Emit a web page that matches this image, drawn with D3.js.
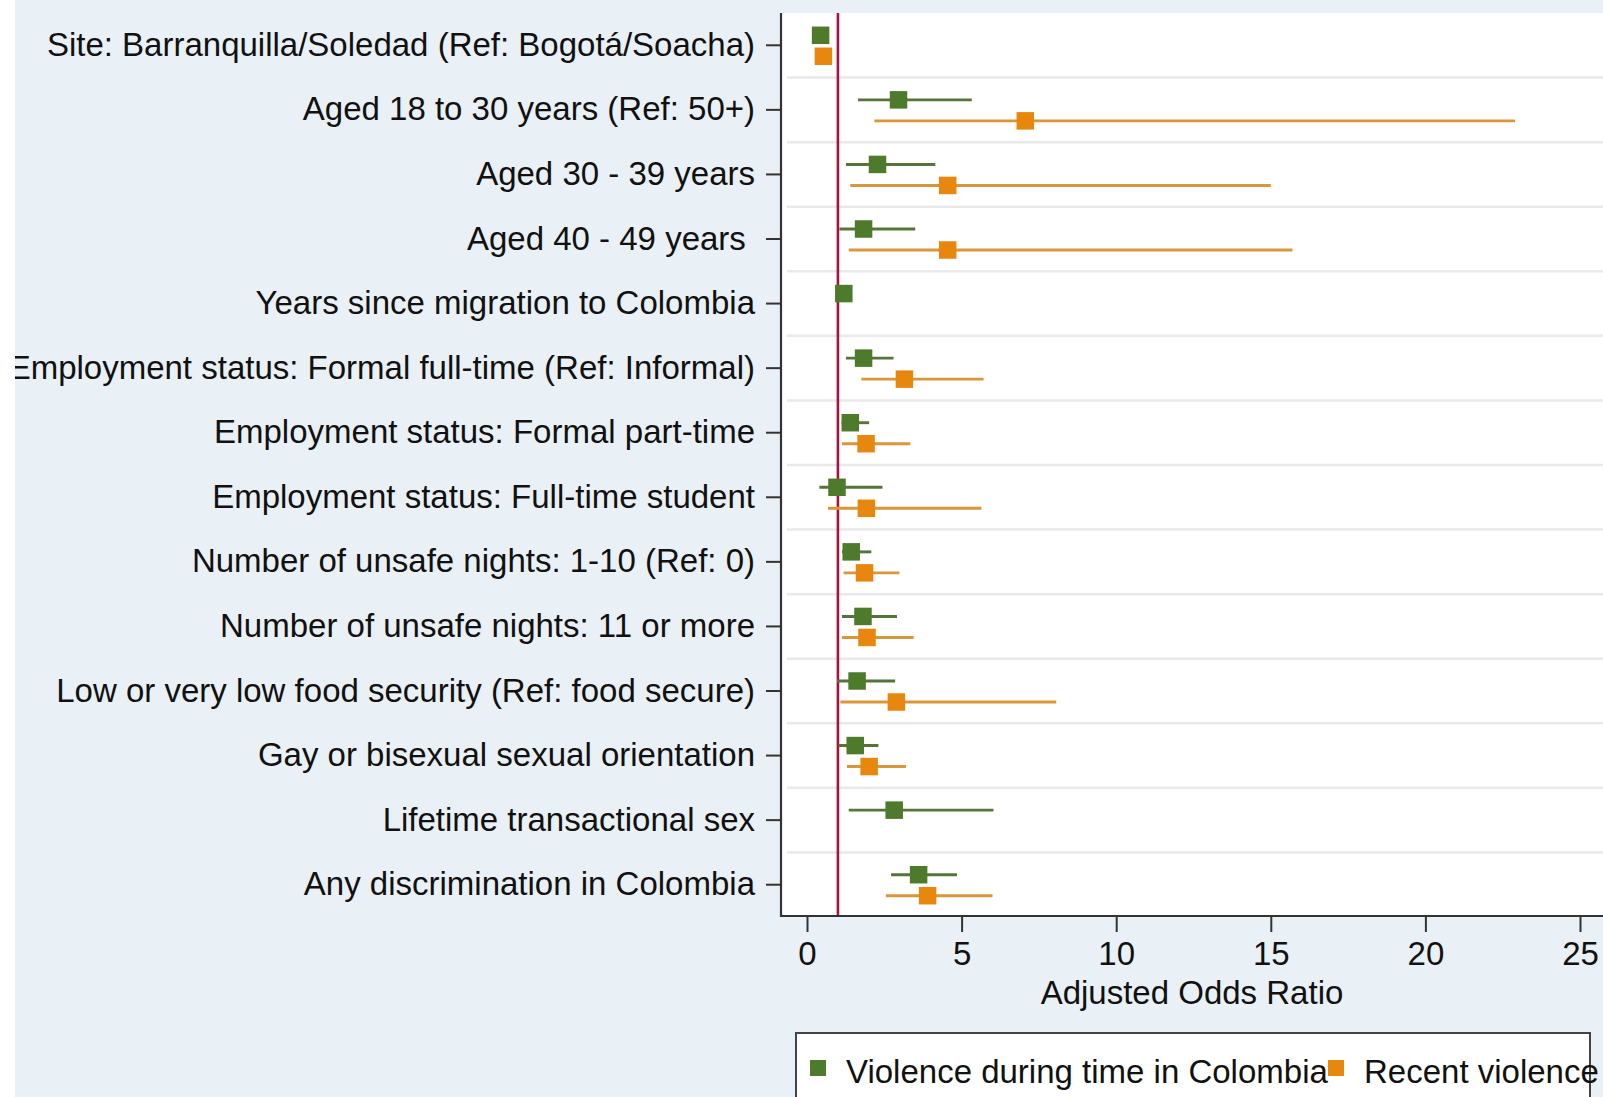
<!DOCTYPE html>
<html>
<head>
<meta charset="utf-8">
<script src="https://cdn.jsdelivr.net/npm/d3@7"></script>
<style>
  body { margin: 0; background: #ffffff; }
  text { font-family: "Liberation Sans", Arial, Helvetica, sans-serif; fill: #111; }
</style>
</head>
<body>
<div id="chart"></div>
<script>
const categories = [
  "Site: Barranquilla/Soledad (Ref: Bogotá/Soacha)",
  "Aged 18 to 30 years (Ref: 50+)",
  "Aged 30 - 39 years",
  "Aged 40 - 49 years ",
  "Years since migration to Colombia",
  "Employment status: Formal full-time (Ref: Informal)",
  "Employment status: Formal part-time",
  "Employment status: Full-time student",
  "Number of unsafe nights: 1-10 (Ref: 0)",
  "Number of unsafe nights: 11 or more",
  "Low or very low food security (Ref: food secure)",
  "Gay or bisexual sexual orientation",
  "Lifetime transactional sex",
  "Any discrimination in Colombia"
];

// Violence during time in Colombia
const violenceAor = [0.44, 2.96, 2.28, 1.83, 1.19, 1.83, 1.40, 0.97, 1.43, 1.81, 1.62, 1.56, 2.82, 3.61];
const violenceLow = [0.32, 1.65, 1.26, 1.05, 1.10, 1.26, 1.12, 0.40, 1.13, 1.13, 0.97, 1.02, 1.35, 2.72];
const violenceHigh = [0.60, 5.33, 4.15, 3.50, 1.28, 2.80, 2.01, 2.44, 2.08, 2.91, 2.85, 2.31, 6.03, 4.85];

// Recent violence (null = not in model)
const recentAor = [0.53, 7.06, 4.55, 4.55, null, 3.15, 1.91, 1.92, 1.86, 1.94, 2.89, 2.01, null, 3.90];
const recentLow = [0.38, 2.18, 1.40, 1.35, null, 1.76, 1.13, 0.68, 1.18, 1.13, 1.08, 1.29, null, 2.55];
const recentHigh = [0.72, 22.9, 15.0, 15.7, null, 5.71, 3.34, 5.64, 2.99, 3.45, 8.06, 3.20, null, 6.00];

const seriesNames = ["Violence during time in Colombia", "Recent violence"];
const xTicks = [0, 5, 10, 15, 20, 25];
const refValue = 1;

const width = 1603;
const height = 1097;
const plotLeft = 781;
const plotTop = 13;
const plotBottom = 916;
const fontSize = 33;
const bg = "#e9f0f6";
const green = "#4e7a2b";
const greenLine = "#56733c";
const orange = "#e8870e";
const orangeLine = "#d9963a";

const svg = d3.select("#chart").append("svg")
  .attr("width", width)
  .attr("height", height);

svg.append("rect").attr("width", width).attr("height", height).attr("fill", bg);

// plot region
svg.append("rect")
  .attr("x", plotLeft).attr("y", plotTop)
  .attr("width", width - plotLeft).attr("height", plotBottom - plotTop)
  .attr("fill", "#ffffff");

const x = d3.scaleLinear().domain([0, 25]).range([807, 1580]);
const y = d3.scaleBand().domain(categories).range([plotTop, 917]);

// gridlines between rows
svg.append("g").selectAll("line")
  .data(categories.slice(1))
  .enter().append("line")
  .attr("x1", plotLeft + 6).attr("x2", width)
  .attr("y1", d => y(d)).attr("y2", d => y(d))
  .attr("stroke", "#e9e9ec").attr("stroke-width", 2.5);

// reference line at 1
svg.append("line")
  .attr("x1", x(refValue)).attr("x2", x(refValue))
  .attr("y1", plotTop).attr("y2", plotBottom)
  .attr("stroke", "#a8123f").attr("stroke-width", 2.6);

const rows = categories.map((c, i) => ({
  cat: c,
  series: [
    { est: violenceAor[i], lo: violenceLow[i], hi: violenceHigh[i], off: -10, fill: green, line: greenLine },
    { est: recentAor[i], lo: recentLow[i], hi: recentHigh[i], off: 11, fill: orange, line: orangeLine }
  ].filter(s => s.est !== null)
}));

const rowG = svg.append("g").selectAll("g")
  .data(rows)
  .enter().append("g")
  .attr("transform", d => `translate(0, ${y(d.cat) + y.bandwidth() / 2})`);

const markSize = 17.5;
rowG.each(function (d) {
  const g = d3.select(this);
  g.selectAll("line.ci")
    .data(d.series)
    .enter().append("line")
    .attr("class", "ci")
    .attr("x1", s => x(s.lo)).attr("x2", s => x(s.hi))
    .attr("y1", s => s.off).attr("y2", s => s.off)
    .attr("stroke", s => s.line).attr("stroke-width", 2.9);
  g.selectAll("rect.est")
    .data(d.series)
    .enter().append("rect")
    .attr("class", "est")
    .attr("x", s => x(s.est) - markSize / 2)
    .attr("y", s => s.off - markSize / 2)
    .attr("width", markSize).attr("height", markSize)
    .attr("fill", s => s.fill);
});

// axes
const xAxis = d3.axisBottom(x).tickValues(xTicks).tickSize(16).tickSizeOuter(0).tickPadding(10);
const xg = svg.append("g").attr("transform", `translate(0, ${plotBottom})`).call(xAxis);
xg.select(".domain").remove();
xg.selectAll(".tick line").attr("stroke", "#333").attr("stroke-width", 2);
xg.selectAll(".tick text").attr("font-size", fontSize).attr("fill", "#111")
  .attr("font-family", "Liberation Sans, Arial, sans-serif");

const yAxis = d3.axisLeft(y).tickSize(15).tickSizeOuter(0).tickPadding(11);
const yg = svg.append("g").attr("transform", `translate(${plotLeft}, 0)`).call(yAxis);
yg.select(".domain").remove();
yg.selectAll(".tick line").attr("stroke", "#333").attr("stroke-width", 2);
yg.selectAll(".tick text").attr("font-size", fontSize).attr("fill", "#111")
  .attr("font-family", "Liberation Sans, Arial, sans-serif")
  .style("white-space", "pre");

svg.append("line")
  .attr("x1", plotLeft).attr("x2", plotLeft)
  .attr("y1", plotTop).attr("y2", plotBottom + 1)
  .attr("stroke", "#333").attr("stroke-width", 2.2);
svg.append("line")
  .attr("x1", plotLeft - 1).attr("x2", width)
  .attr("y1", plotBottom).attr("y2", plotBottom)
  .attr("stroke", "#333").attr("stroke-width", 2.2);

svg.append("text")
  .attr("x", (plotLeft + width) / 2)
  .attr("y", 1004)
  .attr("text-anchor", "middle")
  .attr("font-size", fontSize)
  .text("Adjusted Odds Ratio");

// legend
const legend = svg.append("g");
legend.append("rect")
  .attr("x", 796).attr("y", 1033)
  .attr("width", 794).attr("height", 100)
  .attr("fill", "#ffffff").attr("stroke", "#444").attr("stroke-width", 2);

const legendX = [810, 1328];
const legendColors = [green, orange];
const items = legend.selectAll("g.item")
  .data(seriesNames)
  .enter().append("g")
  .attr("class", "item")
  .attr("transform", (d, i) => `translate(${legendX[i]}, 1060)`);
items.append("rect")
  .attr("width", 16).attr("height", 16)
  .attr("fill", (d, i) => legendColors[i]);
items.append("text")
  .attr("x", 36).attr("y", 23)
  .attr("font-size", fontSize)
  .text(d => d);

// white strip at the far left edge
svg.append("rect").attr("x", 0).attr("y", 0).attr("width", 15).attr("height", height).attr("fill", "#ffffff");
</script>
</body>
</html>
